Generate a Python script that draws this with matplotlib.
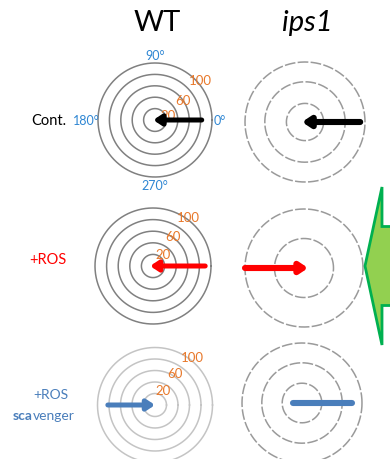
import numpy as np
import matplotlib
matplotlib.use("Agg")
import matplotlib.pyplot as plt
from matplotlib.patches import FancyArrow

plt.rcParams['font.family'] = ['Lato', 'DejaVu Sans']

# ---- data -------------------------------------------------------------
columns = ['WT', 'ips1']
rows = ['Cont.', '+ROS', '+ROS\nscavenger']

wt_rings = [20, 40, 60, 80, 100]
wt_ring_labels = [20, 60, 100]
angle_labels = ['0°', '90°', '180°', '270°']
angle_values = [0, 90, 180, 270]

ips1_rings = [[31, 67, 100], [50, 100], [33, 67, 100]]

# vectors: (start angle deg, start r, end angle deg, end r)
wt_vectors = [(0, 82, 180, 3), (0, 90, 180, 5), (180, 82, 0, 0)]
ips1_vectors = [(0, 92, 180, 5), (180, 100, 0, 7), (0, 83, 180, 15)]

# ---- style ------------------------------------------------------------
W, H = 390, 460
row_colors = ['black', '#ff0000', '#4a7ebb']
blue = '#2e86d3'
orange = '#e8782a'

wt_pos = [(155, 121, 57), (153, 267, 58), (155, 406, 57.5)]
ips1_pos = [(305, 123, 60), (304, 269, 59), (302, 404, 60)]
label_angles = [[20, 36, 42], [50, 56, 54], [62, 58, 52]]
label_r = [[24, 60, 106], [26, 62, 104], [30, 66, 106]]
ring_colors = ['#808080', '#808080', '#c4c4c4']

fig = plt.figure(figsize=(W / 100, H / 100), dpi=100)


def polar_ax(cx, cy, R):
    rect = [(cx - R) / W, 1 - (cy + R) / H, 2 * R / W, 2 * R / H]
    ax = fig.add_axes(rect, projection='polar')
    ax.set_ylim(0, 100)
    ax.axis('off')
    return ax


def vector(ax, v, color, lw, head=True):
    t0, r0, t1, r1 = v
    if head:
        ax.annotate('', xy=(np.deg2rad(t1), r1), xytext=(np.deg2rad(t0), r0),
                    arrowprops=dict(arrowstyle='-|>,head_length=0.45,head_width=0.3',
                                    color=color, lw=lw, mutation_scale=10,
                                    shrinkA=0, shrinkB=0, capstyle='round'))
    else:
        ax.plot([np.deg2rad(t0), np.deg2rad(t1)], [r0, r1],
                color=color, lw=lw, solid_capstyle='round')


theta = np.linspace(0, 2 * np.pi, 300)

for i in range(3):
    # WT panel
    ax = polar_ax(*wt_pos[i])
    for r in wt_rings:
        ax.plot(theta, np.full_like(theta, r), color=ring_colors[i], lw=1.1,
                clip_on=False)
    for v, a, rr in zip(wt_ring_labels, label_angles[i], label_r[i]):
        ax.text(np.deg2rad(a), rr, str(v), color=orange, fontsize=9.5,
                ha='center', va='center', clip_on=False)
    vector(ax, wt_vectors[i], row_colors[i], 3.6)
    if i == 0:
        for lab, ang in zip(angle_labels, angle_values):
            if ang == 180:
                ax.text(np.pi, 97, lab, color=blue, fontsize=9,
                        ha='right', va='center', clip_on=False)
            else:
                ax.text(np.deg2rad(ang), 114, lab, color=blue, fontsize=9,
                        ha='center', va='center', clip_on=False)

    # ips1 panel
    ax = polar_ax(*ips1_pos[i])
    for r in ips1_rings[i]:
        ax.plot(theta, np.full_like(theta, r), color='#9a9a9a', lw=1.1,
                dashes=(7, 1.5), clip_on=False)
    vector(ax, ips1_vectors[i], row_colors[i], 4.4, head=(i != 2))

# column titles
fig.text(157 / W, 1 - 23 / H, columns[0], fontsize=21, ha='center', va='center')
fig.text(307 / W, 1 - 23 / H, columns[1], fontsize=21, ha='center', va='center',
         style='italic')

# row labels
fig.text(66 / W, 1 - 121 / H, rows[0], fontsize=10.5, ha='right', va='center',
         color=row_colors[0])
fig.text(48 / W, 1 - 260 / H, rows[1], fontsize=10.5, ha='center', va='center',
         color=row_colors[1])
fig.text(51 / W, 1 - 395 / H, '+ROS', fontsize=10, ha='center', va='center',
         color=row_colors[2])
fig.text(13 / W, 1 - 416 / H, 'sca', fontsize=10, ha='left', va='center',
         color=row_colors[2], fontweight='bold')
fig.text(33 / W, 1 - 416 / H, 'venger', fontsize=10, ha='left', va='center',
         color=row_colors[2])

# green block arrow on the right
over = fig.add_axes([0, 0, 1, 1])
over.set_xlim(0, W)
over.set_ylim(H, 0)
over.axis('off')
over.add_patch(FancyArrow(402, 267, -37, 0, width=79, head_width=158,
                          head_length=17, length_includes_head=True,
                          facecolor='#92d050', edgecolor='#00b050', lw=2))

fig.savefig('out.png', dpi=100)
